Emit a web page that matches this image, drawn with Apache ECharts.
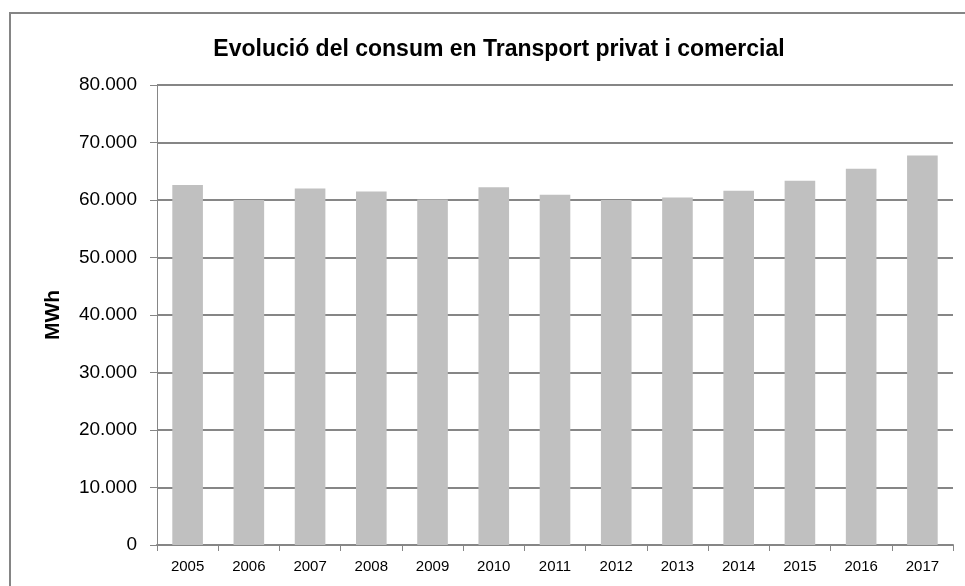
<!DOCTYPE html>
<html>
<head>
<meta charset="utf-8">
<style>
  html, body { margin: 0; padding: 0; background: #fff; overflow: hidden; }
  #frame { position: absolute; left: 9px; top: 12px; width: 980px; height: 600px; border: 2px solid #858585; }
  #chart { position: absolute; left: 0; top: 0; width: 965px; height: 586px; }
</style>
<script src="https://cdn.jsdelivr.net/npm/echarts@6/dist/echarts.min.js"></script>
</head>
<body>
<div id="frame"></div>
<div id="chart"></div>
<script>
// Evolució del consum en Transport privat i comercial
var years = ['2005', '2006', '2007', '2008', '2009', '2010', '2011', '2012', '2013', '2014', '2015', '2016', '2017'];
var consum = [62600, 60000, 62000, 61500, 60100, 62200, 60900, 60000, 60450, 61600, 63350, 65450, 67750];

(function () {
  var grey = '#868686';
  var ink = '#000';

  function fmt(v) {
    return String(v).replace(/\B(?=(\d{3})+(?!\d))/g, '.');
  }

  var c = echarts.init(document.getElementById('chart'), null, { renderer: 'canvas' });
  c.setOption({
    animation: false,
    title: {
      text: 'Evolució del consum en Transport privat i comercial',
      left: 494,
      textAlign: 'center',
      top: 33,
      textStyle: { color: ink, fontFamily: 'Liberation Sans', fontWeight: 'bold', fontSize: 23 }
    },
    grid: { left: 157, right: 12, top: 85, bottom: 41 },
    xAxis: {
      type: 'category',
      data: years,
      axisLine: { lineStyle: { color: grey, width: 2 } },
      axisTick: { show: true, length: 6, lineStyle: { color: grey, width: 1 } },
      axisLabel: { color: ink, fontFamily: 'Liberation Sans', fontSize: 15, margin: 14 }
    },
    yAxis: {
      type: 'value',
      min: 0,
      max: 80000,
      interval: 10000,
      name: 'MWh',
      nameLocation: 'middle',
      nameGap: 93,
      nameTextStyle: { color: ink, fontFamily: 'Liberation Sans', fontWeight: 'bold', fontSize: 21 },
      axisLine: { show: true, lineStyle: { color: grey, width: 1 } },
      axisTick: { show: true, length: 7, lineStyle: { color: grey } },
      splitLine: { lineStyle: { color: grey, width: 2 } },
      axisLabel: { color: ink, fontFamily: 'Liberation Sans', fontSize: 19, margin: 20, formatter: fmt }
    },
    series: [{
      type: 'bar',
      data: consum,
      barWidth: '50%',
      itemStyle: { color: '#c0c0c0' }
    }]
  });
})();
</script>
</body>
</html>
